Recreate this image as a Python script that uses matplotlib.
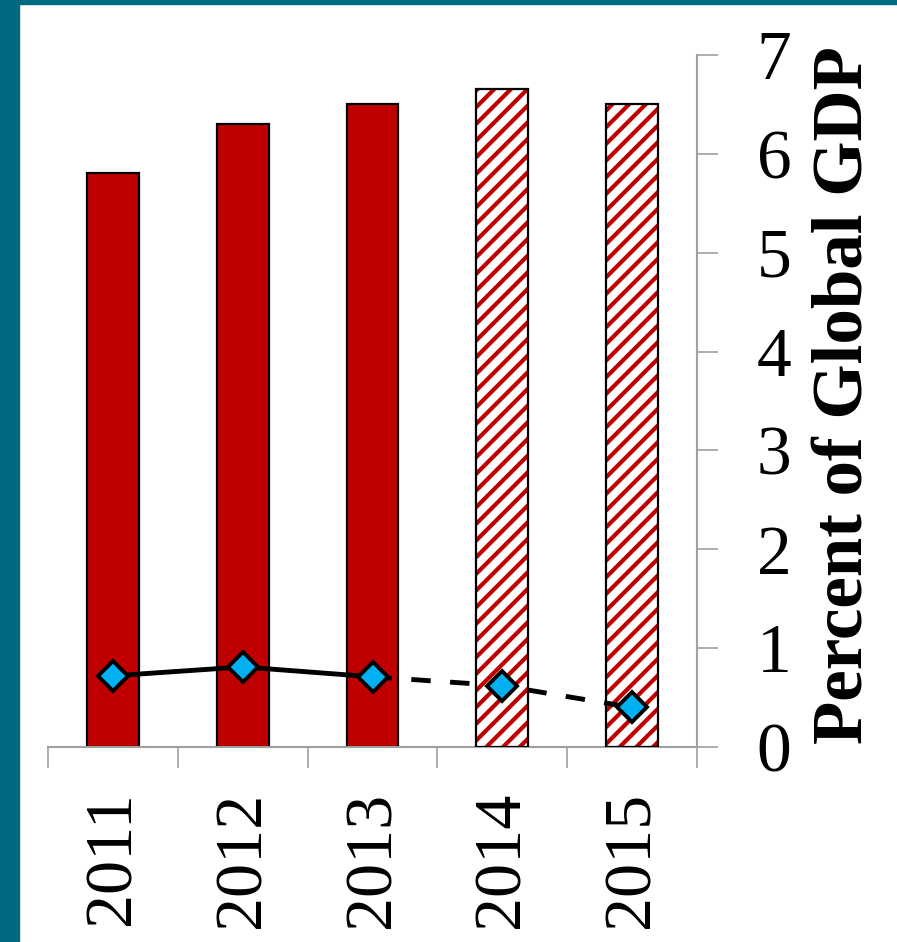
import matplotlib
matplotlib.use("Agg")
import matplotlib.pyplot as plt

years = ["2011", "2012", "2013", "2014", "2015"]
bar_values = [5.81, 6.30, 6.50, 6.66, 6.50]
projected = [False, False, False, True, True]
line_values = [0.72, 0.81, 0.71, 0.62, 0.40]

plt.rcParams["font.family"] = ["Liberation Serif", "DejaVu Serif"]
plt.rcParams["hatch.linewidth"] = 3.0

RED = "#c00000"
CYAN = "#00b0f0"
TEAL = "#006a80"
GRAY = "#a0a0a0"

fig = plt.figure(figsize=(8.97, 9.42), dpi=100)
# teal frame on top and left
fig.patches.append(plt.Rectangle((0, 1 - 4 / 942), 1, 4 / 942, transform=fig.transFigure,
                                 color=TEAL, zorder=0))
fig.patches.append(plt.Rectangle((0, 0), 19 / 897, 1, transform=fig.transFigure,
                                 color=TEAL, zorder=0))

ax = fig.add_axes([48 / 897, (942 - 747) / 942, (697 - 48) / 897, (747 - 55) / 942])
x = list(range(len(years)))
w = 0.4
for i, (v, p) in enumerate(zip(bar_values, projected)):
    if p:
        ax.bar(i, v, width=w, color="white", edgecolor=RED, hatch="//", linewidth=0, zorder=2)
        ax.bar(i, v, width=w, fill=False, edgecolor="black", linewidth=1.6, zorder=3)
    else:
        ax.bar(i, v, width=w, color=RED, edgecolor="black", linewidth=1.6, zorder=2)

ax.plot(x[:3], line_values[:3], color="black", lw=3.5, zorder=4)
ax.plot(x[2:], line_values[2:], color="black", lw=3.5, ls=(0, (4, 4)), zorder=4)
ax.plot(x, line_values, ls="none", marker="D", ms=15, mfc=CYAN, mec="black", mew=2.8, zorder=5)

ax.set_xlim(-0.5, len(years) - 0.5)
ax.set_ylim(0, 7)
ax.yaxis.tick_right()
ax.set_yticks(range(8))
ax.tick_params(axis="y", labelsize=50, length=15, width=1.2, color=GRAY, pad=28)
ax.set_xticks(x)
ax.set_xticklabels(years, rotation=90, fontsize=49)
ax.tick_params(axis="x", length=0, pad=32)
ax.set_xticks([i - 0.5 for i in range(len(years) + 1)], minor=True)
ax.tick_params(axis="x", which="minor", length=15, width=1.2, color=GRAY)
for s in ["left", "top"]:
    ax.spines[s].set_visible(False)
for s in ["right", "bottom"]:
    ax.spines[s].set_color(GRAY)
    ax.spines[s].set_linewidth(1.5)
fig.text(845 / 897, 1 - 395 / 942, "Percent of Global GDP", fontsize=51, fontweight="bold",
         rotation=90, ha="center", va="center")

fig.savefig("out.png", dpi=100)
